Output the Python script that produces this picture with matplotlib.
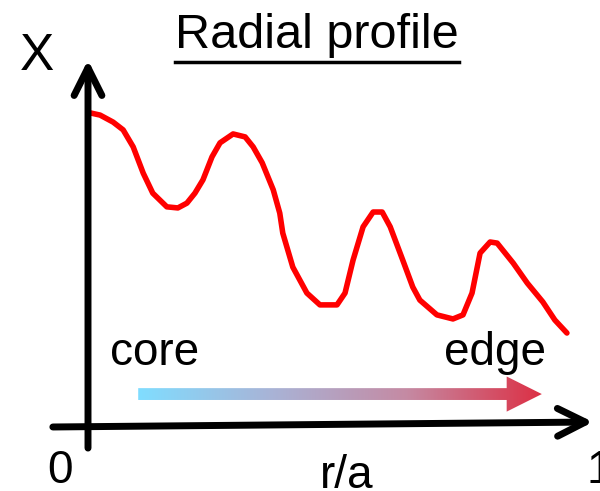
import numpy as np
import matplotlib
matplotlib.use('Agg')
import matplotlib.pyplot as plt
from matplotlib.patches import FancyArrow
from matplotlib.colors import LinearSegmentedColormap

plt.rcParams['font.family'] = ['Liberation Sans', 'DejaVu Sans']

# radial profile (hand drawn curve), r/a vs X
r_a = [0.004, 0.024, 0.050, 0.070, 0.090, 0.110, 0.129, 0.157, 0.179, 0.197,
       0.213, 0.229, 0.247, 0.263, 0.289, 0.313, 0.329, 0.347, 0.369, 0.382,
       0.388, 0.408, 0.436, 0.462, 0.496, 0.512, 0.528, 0.548, 0.568, 0.586,
       0.602, 0.627, 0.647, 0.661, 0.695, 0.727, 0.747, 0.765, 0.781, 0.801,
       0.815, 0.847, 0.875, 0.906, 0.930, 0.954]
x_val = [0.849, 0.843, 0.824, 0.803, 0.757, 0.686, 0.632, 0.595, 0.592, 0.605,
         0.632, 0.668, 0.730, 0.768, 0.792, 0.784, 0.757, 0.714, 0.641, 0.578,
         0.524, 0.432, 0.362, 0.330, 0.330, 0.362, 0.451, 0.541, 0.581, 0.581,
         0.541, 0.451, 0.378, 0.343, 0.303, 0.292, 0.303, 0.362, 0.470, 0.500,
         0.497, 0.443, 0.389, 0.338, 0.289, 0.254]

# core -> edge arrow
arrow_start = 0.10
arrow_end = 0.904
arrow_level = 0.089
grad_colors = ['#80ddff', '#a9b3d6', '#c58aa3', '#dc3045']

fig = plt.figure(figsize=(6, 4.91), dpi=100)
ax = fig.add_axes([0, 0, 1, 1])
ax.set_xlim(-0.1753, 1.0199)
ax.set_ylim(-0.173, 1.154)
ax.axis('off')

# axes arrows
ax.annotate('', xy=(0, 0.992), xytext=(0, -0.057),
            arrowprops=dict(arrowstyle='->,head_length=0.4,head_width=0.2',
                            lw=5, color='black', mutation_scale=50,
                            shrinkA=0, shrinkB=0))
ax.annotate('', xy=(1.006, 0.0135), xytext=(-0.070, 0.0),
            arrowprops=dict(arrowstyle='->,head_length=0.4,head_width=0.2',
                            lw=5, color='black', mutation_scale=50,
                            shrinkA=0, shrinkB=0))

# profile curve
ax.plot(r_a, x_val, color='red', lw=4, solid_capstyle='round',
        solid_joinstyle='round')

# gradient arrow
arr = FancyArrow(arrow_start, arrow_level, arrow_end - arrow_start, 0,
                 width=0.032, head_width=0.095, head_length=0.07,
                 length_includes_head=True, facecolor='none', edgecolor='none')
ax.add_patch(arr)
cmap = LinearSegmentedColormap.from_list('ce', grad_colors)
grad = np.linspace(0, 1, 256).reshape(1, -1)
im = ax.imshow(grad, cmap=cmap, aspect='auto',
               extent=(arrow_start, arrow_end, arrow_level - 0.05, arrow_level + 0.05),
               zorder=2)
im.set_clip_path(arr)
ax.set_xlim(-0.1753, 1.0199)
ax.set_ylim(-0.173, 1.154)

# labels
ax.text(-0.102, 1.0, 'X', fontsize=37, ha='center', va='center')
ax.text(0.133, 0.167, 'core', fontsize=33, ha='center', va='baseline')
ax.text(0.811, 0.167, 'edge', fontsize=33, ha='center', va='baseline')
ax.text(-0.056, -0.151, '0', fontsize=33, ha='center', va='baseline')
ax.text(0.994, -0.151, '1', fontsize=33, ha='left', va='baseline')
ax.text(0.516, -0.165, 'r/a', fontsize=33, ha='center', va='baseline')

# underlined title
title = fig.text(0.528, 1 - 48 / 491, 'Radial profile', fontsize=35,
                 ha='center', va='baseline')
fig.canvas.draw()
bb = title.get_window_extent()
uy = (491 - 62) / 491
fig.add_artist(plt.Line2D([bb.x0 / 600, bb.x1 / 600], [uy, uy],
                          color='black', lw=2.5, transform=fig.transFigure))

fig.savefig('out.png', dpi=100)
